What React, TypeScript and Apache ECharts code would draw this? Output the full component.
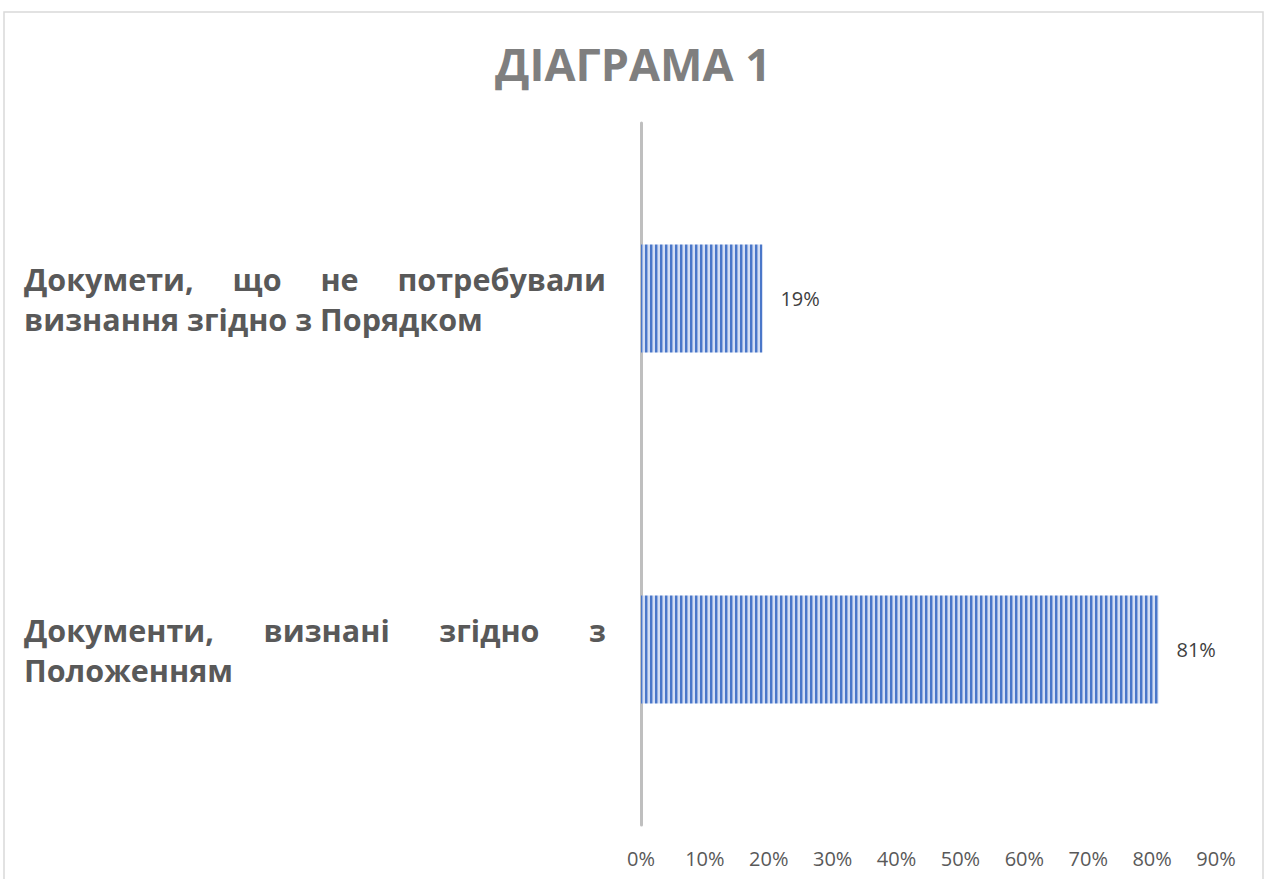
import React, { useEffect, useRef } from "react";
import * as echarts from "echarts";

const titleText = "ДІАГРАМА 1";
// Category axis runs bottom -> top
const categories = [
  "Документи, визнані згідно з Положенням",
  "Докумети, що не потребували визнання згідно з Порядком",
];
const values = [0.81, 0.19];
const xMin = 0;
const xMax = 0.9;
const xInterval = 0.1;

const LABEL_FONT_FAMILY = '"Open Sans", sans-serif';
const LABEL_FONT_SIZE = 30.5;
const LABEL_WIDTH = 582;
const LABEL_LINE_HEIGHT = 40;

function pct(v: number) {
  return Math.round(v * 100) + "%";
}

function buildJustified(texts: string[]) {
  const canvas = document.createElement("canvas");
  const ctx = canvas.getContext("2d")!;
  ctx.font = `bold ${LABEL_FONT_SIZE}px ${LABEL_FONT_FAMILY}`;
  const m = (s: string) => ctx.measureText(s).width;
  const rich: Record<string, any> = {};
  const base = {
    fontFamily: LABEL_FONT_FAMILY,
    fontSize: LABEL_FONT_SIZE,
    fontWeight: "bold",
    color: "#595959",
    lineHeight: LABEL_LINE_HEIGHT,
  };
  rich.w = { ...base };
  const out: Record<string, string> = {};
  texts.forEach((text, i) => {
    const words = text.split(" ");
    const lines: string[][] = [];
    let cur: string[] = [];
    words.forEach((w) => {
      const test = [...cur, w].join(" ");
      if (cur.length && m(test) > LABEL_WIDTH) {
        lines.push(cur);
        cur = [w];
      } else cur.push(w);
    });
    if (cur.length) lines.push(cur);
    const parts = lines.map((ln, j) => {
      const isLast = j === lines.length - 1;
      if (isLast || ln.length < 2) return `{w|${ln.join(" ")}}`;
      const sum = ln.reduce((a, w) => a + m(w), 0);
      const gap = (LABEL_WIDTH - sum) / (ln.length - 1);
      const key = `g${i}_${j}`;
      rich[key] = { ...base, width: gap };
      return ln.map((w) => `{w|${w}}`).join(`{${key}| }`);
    });
    out[text] = parts.join("\n");
  });
  return { rich, out };
}

function makePattern() {
  const c = document.createElement("canvas");
  c.width = 5;
  c.height = 4;
  const ctx = c.getContext("2d")!;
  ctx.fillStyle = "#d3def4";
  ctx.fillRect(0, 0, 5, 4);
  ctx.fillStyle = "#4a77c9";
  ctx.fillRect(0, 0, 2, 4);
  ctx.fillStyle = "#97b0e0";
  ctx.fillRect(2, 0, 1, 4);
  return c;
}

export default function App() {
  const ref = useRef<HTMLDivElement>(null);
  useEffect(() => {
    if (!ref.current) return;
    const chart = echarts.init(ref.current, undefined, { renderer: "svg" });
    const { rich, out } = buildJustified(categories);
    const pattern = makePattern();
    chart.setOption({
      animation: false,
      backgroundColor: "#ffffff",
      title: {
        text: titleText,
        left: "center",
        top: 36,
        textStyle: {
          fontFamily: LABEL_FONT_FAMILY,
          fontSize: 45,
          fontWeight: "bold",
          color: "#7f7f7f",
        },
      },
      graphic: [
        {
          type: "rect",
          shape: { x: 4, y: 12, width: 1259, height: 900 },
          style: { fill: "none", stroke: "#d9d9d9", lineWidth: 1.5 },
          silent: true,
        },
      ],
      grid: { left: 641, right: 50, top: 123, bottom: 54, containLabel: false },
      xAxis: {
        type: "value",
        min: xMin,
        max: xMax,
        interval: xInterval,
        axisLine: { show: false },
        axisTick: { show: false },
        splitLine: { show: false },
        axisLabel: {
          formatter: (v: number) => pct(v),
          margin: 23,
          fontFamily: LABEL_FONT_FAMILY,
          fontSize: 20,
          color: "#595959",
        },
      },
      yAxis: {
        type: "category",
        data: categories,
        axisLine: { show: true, lineStyle: { color: "#bfbfbf", width: 3 } },
        axisTick: { show: false },
        axisLabel: {
          align: "left",
          margin: 617,
          formatter: (v: string) => out[v] ?? v,
          rich,
          fontFamily: LABEL_FONT_FAMILY,
          fontSize: LABEL_FONT_SIZE,
          fontWeight: "bold",
          color: "#595959",
          lineHeight: LABEL_LINE_HEIGHT,
        },
      },
      series: [
        {
          type: "bar",
          data: values,
          barWidth: 108,
          itemStyle: {
            color: { image: pattern, repeat: "repeat" },
          },
          label: {
            show: true,
            position: "right",
            distance: 18,
            formatter: (p: any) => pct(p.value),
            fontFamily: LABEL_FONT_FAMILY,
            fontSize: 20,
            color: "#404040",
          },
        },
      ],
    });
    return () => chart.dispose();
  }, []);
  return (
    <div
      ref={ref}
      style={{ position: "absolute", left: 0, top: 0, width: 1266, height: 879 }}
    />
  );
}
